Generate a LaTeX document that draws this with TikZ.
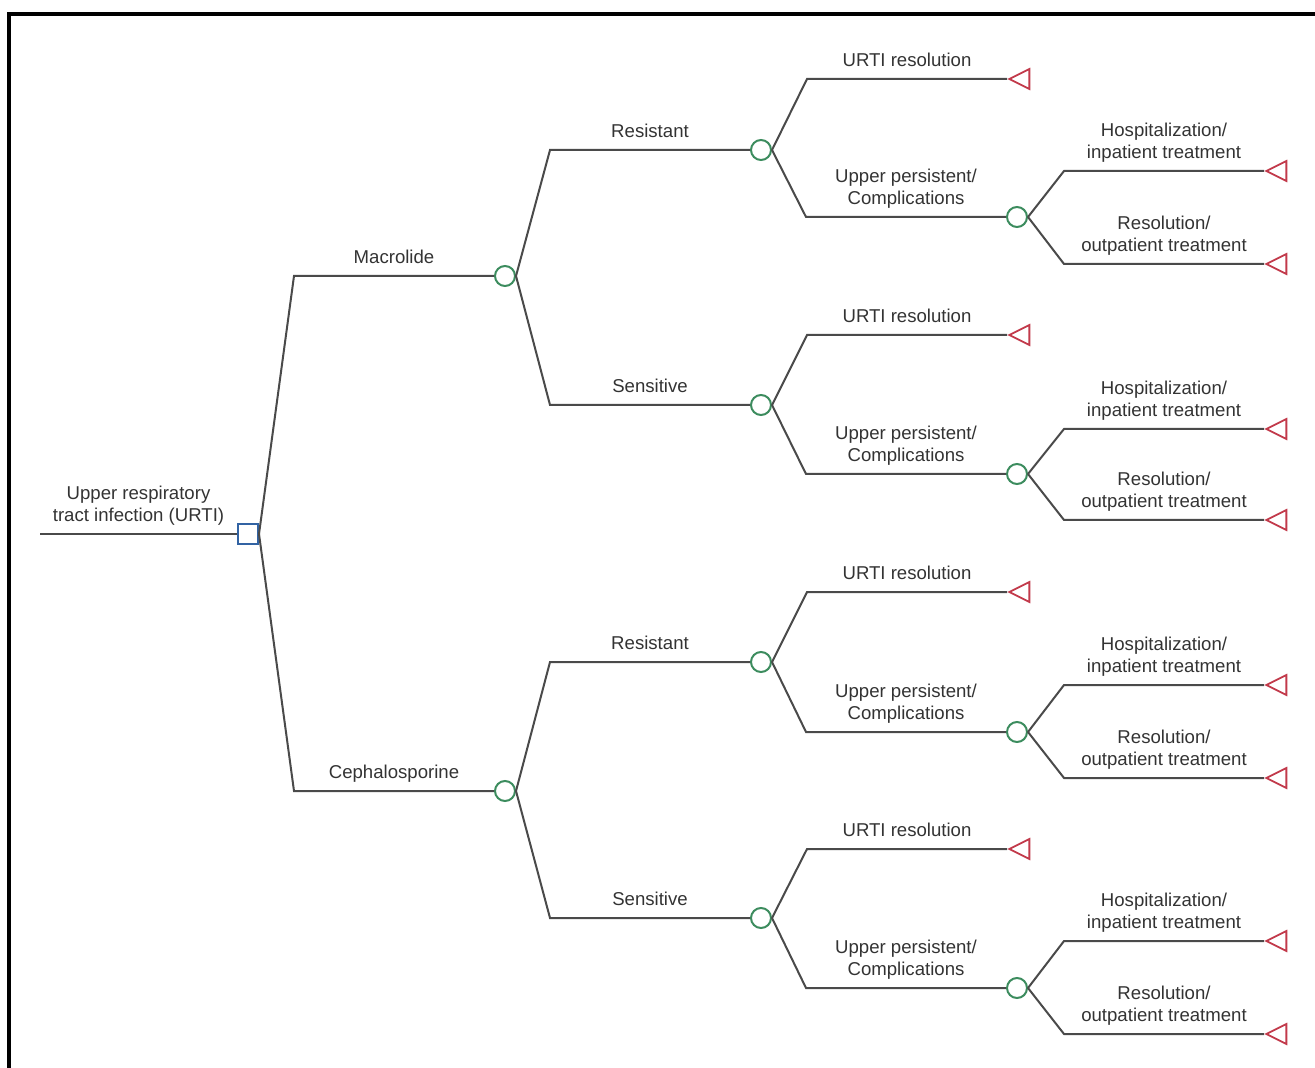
\documentclass[tikz,border=0pt]{standalone}
\usepackage{fontspec}
\setmainfont{Liberation Sans}
\usepackage{tikz}
\usetikzlibrary{shapes.geometric}

\definecolor{treeline}{HTML}{4A4A4A}
\definecolor{labeltext}{HTML}{333333}
\definecolor{decblue}{HTML}{3263A3}
\definecolor{chgreen}{HTML}{3C8C5E}
\definecolor{termred}{HTML}{C23A4B}

\begin{document}
\begin{tikzpicture}[x=0.5pt,y=-0.5pt,
  edge/.style={draw=treeline,line width=1pt},
  lbl/.style={above=5.6pt,inner sep=0pt,text depth=0pt,align=center,text=labeltext,font=\fontsize{9.3}{11}\selectfont},
  decision/.style={rectangle,draw=decblue,line width=1pt,minimum size=10pt,inner sep=0pt,fill=white},
  chance/.style={circle,draw=chgreen,line width=1pt,minimum size=10pt,inner sep=0pt,fill=white},
  terminal/.style={isosceles triangle,isosceles triangle stretches,shape border rotate=180,draw=termred,line width=0.9pt,minimum width=10pt,minimum height=10pt,inner sep=0pt,anchor=apex}]
\useasboundingbox (0,0) rectangle (1315,1068);
% frame (only top and left are seen)
\draw[line width=1.6pt] (9,1068)--(9,14)--(1315,14);

% decision and chance nodes
\coordinate (start) at (40,534);
\node[decision] (urti) at (248,534) {};
\node[chance] (mac) at (505,276) {};
\node[chance] (ceph) at (505,791) {};
\node[chance] (macres) at (761,150) {};
\node[chance] (macsens) at (761,405) {};
\node[chance] (cephres) at (761,662) {};
\node[chance] (cephsens) at (761,918) {};
\node[chance] (macrescomp) at (1017,217) {};
\node[chance] (macsenscomp) at (1017,474) {};
\node[chance] (cephrescomp) at (1017,732) {};
\node[chance] (cephsenscomp) at (1017,988) {};

% terminal nodes
\node[terminal] (macresurti) at (1007,79) {};
\node[terminal] (macsensurti) at (1007,335) {};
\node[terminal] (cephresurti) at (1007,592) {};
\node[terminal] (cephsensurti) at (1007,849) {};
\node[terminal] (macreshosp) at (1264,171) {};
\node[terminal] (macsenshosp) at (1264,429) {};
\node[terminal] (cephreshosp) at (1264,685) {};
\node[terminal] (cephsenshosp) at (1264,941) {};
\node[terminal] (macresout) at (1264,264) {};
\node[terminal] (macsensout) at (1264,520) {};
\node[terminal] (cephresout) at (1264,778) {};
\node[terminal] (cephsensout) at (1264,1034) {};

% treatment
\draw[edge] (start)--node[lbl] {Upper respiratory\\tract infection (URTI)} (urti.west);
\draw[edge] (urti.east)--([xshift=-100pt]mac.west)--node[lbl] {Macrolide} (mac.west);
\draw[edge] (urti.east)--([xshift=-100pt]ceph.west)--node[lbl] {Cephalosporine} (ceph.west);

% susceptibility
\draw[edge] (mac.east)--([xshift=-100pt]macres.west)--node[lbl] {Resistant} (macres.west);
\draw[edge] (mac.east)--([xshift=-100pt]macsens.west)--node[lbl] {Sensitive} (macsens.west);
\draw[edge] (ceph.east)--([xshift=-100pt]cephres.west)--node[lbl] {Resistant} (cephres.west);
\draw[edge] (ceph.east)--([xshift=-100pt]cephsens.west)--node[lbl] {Sensitive} (cephsens.west);

% first outcome
\draw[edge] (macres.east)--([xshift=-100pt]macresurti.apex)--node[lbl] {URTI resolution} (macresurti.apex);
\draw[edge] (macres.east)--([xshift=-100pt]macrescomp.west)--node[lbl] {Upper persistent/\\Complications} (macrescomp.west);
\draw[edge] (macsens.east)--([xshift=-100pt]macsensurti.apex)--node[lbl] {URTI resolution} (macsensurti.apex);
\draw[edge] (macsens.east)--([xshift=-100pt]macsenscomp.west)--node[lbl] {Upper persistent/\\Complications} (macsenscomp.west);
\draw[edge] (cephres.east)--([xshift=-100pt]cephresurti.apex)--node[lbl] {URTI resolution} (cephresurti.apex);
\draw[edge] (cephres.east)--([xshift=-100pt]cephrescomp.west)--node[lbl] {Upper persistent/\\Complications} (cephrescomp.west);
\draw[edge] (cephsens.east)--([xshift=-100pt]cephsensurti.apex)--node[lbl] {URTI resolution} (cephsensurti.apex);
\draw[edge] (cephsens.east)--([xshift=-100pt]cephsenscomp.west)--node[lbl] {Upper persistent/\\Complications} (cephsenscomp.west);

% complications
\draw[edge] (macrescomp.east)--([xshift=-100pt]macreshosp.apex)--node[lbl] {Hospitalization/\\inpatient treatment} (macreshosp.apex);
\draw[edge] (macrescomp.east)--([xshift=-100pt]macresout.apex)--node[lbl] {Resolution/\\outpatient treatment} (macresout.apex);
\draw[edge] (macsenscomp.east)--([xshift=-100pt]macsenshosp.apex)--node[lbl] {Hospitalization/\\inpatient treatment} (macsenshosp.apex);
\draw[edge] (macsenscomp.east)--([xshift=-100pt]macsensout.apex)--node[lbl] {Resolution/\\outpatient treatment} (macsensout.apex);
\draw[edge] (cephrescomp.east)--([xshift=-100pt]cephreshosp.apex)--node[lbl] {Hospitalization/\\inpatient treatment} (cephreshosp.apex);
\draw[edge] (cephrescomp.east)--([xshift=-100pt]cephresout.apex)--node[lbl] {Resolution/\\outpatient treatment} (cephresout.apex);
\draw[edge] (cephsenscomp.east)--([xshift=-100pt]cephsenshosp.apex)--node[lbl] {Hospitalization/\\inpatient treatment} (cephsenshosp.apex);
\draw[edge] (cephsenscomp.east)--([xshift=-100pt]cephsensout.apex)--node[lbl] {Resolution/\\outpatient treatment} (cephsensout.apex);
\end{tikzpicture}
\end{document}
